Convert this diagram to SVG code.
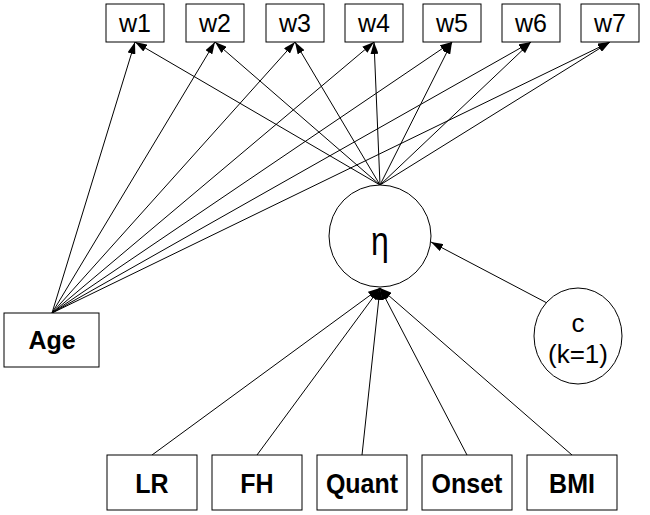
<svg xmlns="http://www.w3.org/2000/svg" width="650" height="515" viewBox="0 0 650 515">
<style>
.box{fill:#fff;stroke:#000;stroke-width:1}
.w{font-family:"Liberation Sans",Arial,sans-serif;font-size:25px;text-anchor:middle}
.b{font-family:"Liberation Sans",Arial,sans-serif;font-size:25px;font-weight:bold;text-anchor:middle}
.c{font-family:"Liberation Sans",Arial,sans-serif;font-size:26px;text-anchor:middle}
.edge{stroke:#000;stroke-width:1;fill:none;marker-end:url(#ah)}
</style>
<defs>
<marker id="ah" markerUnits="userSpaceOnUse" markerWidth="12" markerHeight="8" refX="12" refY="4" orient="auto">
<path d="M0,0 L12,4 L0,8 z" fill="#000"/>
</marker>
</defs>
<rect width="650" height="515" fill="#fff"/>
<g id="connectors">
<line class="edge" x1="52" y1="313" x2="135" y2="42"/>
<line class="edge" x1="52" y1="313" x2="215" y2="42"/>
<line class="edge" x1="52" y1="313" x2="295" y2="42"/>
<line class="edge" x1="52" y1="313" x2="374" y2="42"/>
<line class="edge" x1="52" y1="313" x2="452" y2="42"/>
<line class="edge" x1="52" y1="313" x2="531" y2="42"/>
<line class="edge" x1="52" y1="313" x2="610" y2="42"/>
<line class="edge" x1="380" y1="185" x2="135" y2="42"/>
<line class="edge" x1="380" y1="185" x2="215" y2="42"/>
<line class="edge" x1="380" y1="185" x2="295" y2="42"/>
<line class="edge" x1="380" y1="185" x2="374" y2="42"/>
<line class="edge" x1="380" y1="185" x2="452" y2="42"/>
<line class="edge" x1="380" y1="185" x2="531" y2="42"/>
<line class="edge" x1="380" y1="185" x2="610" y2="42"/>
<line class="edge" x1="152" y1="455" x2="380" y2="288"/>
<line class="edge" x1="257" y1="455" x2="380" y2="288"/>
<line class="edge" x1="362" y1="455" x2="380" y2="288"/>
<line class="edge" x1="467" y1="455" x2="380" y2="288"/>
<line class="edge" x1="572" y1="455" x2="380" y2="288"/>
<line class="edge" x1="547" y1="303" x2="431" y2="242"/>
</g>
<g id="w1"><rect class="box" x="106" y="4" width="58" height="38"/><text class="w" x="135" y="32">w1</text></g>
<g id="w2"><rect class="box" x="186" y="4" width="58" height="38"/><text class="w" x="215" y="32">w2</text></g>
<g id="w3"><rect class="box" x="266" y="4" width="58" height="38"/><text class="w" x="295" y="32">w3</text></g>
<g id="w4"><rect class="box" x="345" y="4" width="58" height="38"/><text class="w" x="374" y="32">w4</text></g>
<g id="w5"><rect class="box" x="423" y="4" width="58" height="38"/><text class="w" x="452" y="32">w5</text></g>
<g id="w6"><rect class="box" x="502" y="4" width="58" height="38"/><text class="w" x="531" y="32">w6</text></g>
<g id="w7"><rect class="box" x="581" y="4" width="58" height="38"/><text class="w" x="610" y="32">w7</text></g>
<g id="eta"><circle class="box" cx="380" cy="236" r="51"/><text class="c" transform="translate(380,255) scale(1,1.25)" x="0" y="0" style="font-size:32px">η</text></g>
<g id="age"><rect class="box" x="4" y="313" width="95" height="54"/><text class="b" x="52" y="349">Age</text></g>
<g id="c"><ellipse class="box" cx="578" cy="336" rx="44" ry="48"/><text class="c" x="578" y="332">c</text><text class="c" x="578" y="363">(k=1)</text></g>
<g id="lr"><rect class="box" x="107" y="455" width="90" height="55"/><text class="b" transform="translate(152,493) scale(1,1.12)">LR</text></g>
<g id="fh"><rect class="box" x="212" y="455" width="90" height="55"/><text class="b" transform="translate(257,493) scale(1,1.12)">FH</text></g>
<g id="quant"><rect class="box" x="317" y="455" width="90" height="55"/><text class="b" transform="translate(362,493) scale(1,1.12)">Quant</text></g>
<g id="onset"><rect class="box" x="422" y="455" width="90" height="55"/><text class="b" transform="translate(467,493) scale(1,1.12)">Onset</text></g>
<g id="bmi"><rect class="box" x="527" y="455" width="90" height="55"/><text class="b" transform="translate(572,493) scale(1,1.12)">BMI</text></g>
</svg>
